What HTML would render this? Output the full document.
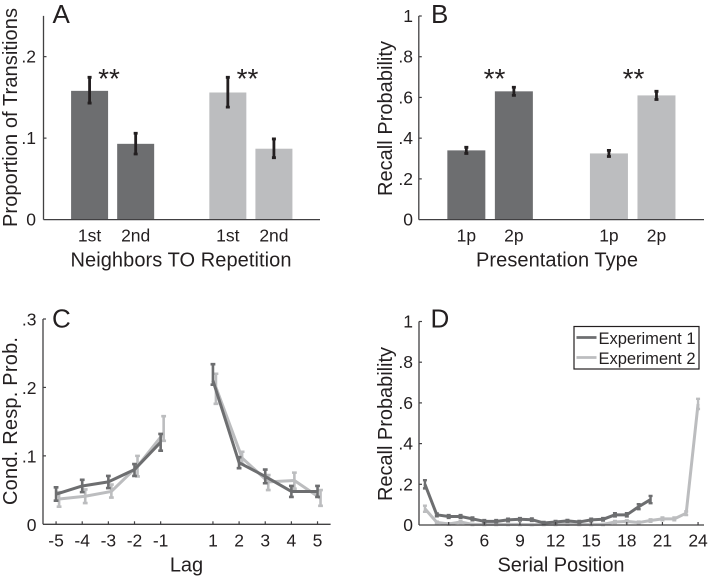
<!DOCTYPE html>
<html>
<head>
<meta charset="utf-8">
<title>Recall charts</title>
<style>
html,body{margin:0;padding:0;background:#fff;width:708px;height:577px;overflow:hidden}
svg{display:block;filter:blur(0.35px)}
text{font-family:"Liberation Sans",Arial,sans-serif;fill:#231f20}
.tick{font-size:17.5px}
.title{font-size:20px;text-anchor:middle}
.letter{font-size:26px}
.star{font-size:28px;text-anchor:middle}
.leg{font-size:16.5px}
</style>
</head>
<body>
<svg id="fig" width="708" height="577" viewBox="0 0 708 577" xmlns="http://www.w3.org/2000/svg">
  <text class="letter" x="52.5" y="23">A</text>
  <text class="letter" x="431" y="23">B</text>
  <text class="letter" x="52" y="327.5">C</text>
  <text class="letter" x="430.5" y="327.5">D</text>

  <text class="title" x="181" y="266.5" textLength="221">Neighbors TO Repetition</text>
  <text class="title" x="557" y="266.5" textLength="162">Presentation Type</text>
  <text class="title" x="186.5" y="571.5">Lag</text>
  <text class="title" x="561" y="571.5" textLength="127">Serial Position</text>

  <text class="title" transform="translate(17,117.5) rotate(-90)" textLength="219">Proportion of Transitions</text>
  <text class="title" transform="translate(392,118.5) rotate(-90)" textLength="155">Recall Probability</text>
  <text class="title" transform="translate(17,421) rotate(-90)" textLength="168">Cond. Resp. Prob.</text>
  <text class="title" transform="translate(392,424) rotate(-90)" textLength="154">Recall Probability</text>

  <text class="star" x="109" y="88">**</text>
  <text class="star" x="247.5" y="88">**</text>
  <text class="star" x="494.5" y="88">**</text>
  <text class="star" x="633.5" y="88">**</text>

  <g>
    <rect x="574" y="326.5" width="125" height="42.5" fill="#fff" stroke="#231f20" stroke-width="1.2"/>
    <line x1="576.5" x2="596.5" y1="337.5" y2="337.5" stroke="#6d6e70" stroke-width="2.8"/>
    <text class="leg" x="598.5" y="344" textLength="97">Experiment 1</text>
    <line x1="576.5" x2="596.5" y1="357.5" y2="357.5" stroke="#bcbdbf" stroke-width="2.8"/>
    <text class="leg" x="598.5" y="364" textLength="97">Experiment 2</text>
  </g>
</svg>
<script>
// Panel A
const aLabels = ['1st', '2nd', '1st', '2nd'];
const aSlots = [1, 2, 4, 5];
const aValues = [0.158, 0.093, 0.156, 0.087];
const aErrLow = [0.143, 0.0805, 0.138, 0.076];
const aErrHigh = [0.1746, 0.106, 0.1746, 0.099];
const aYTicks = [0, 0.1, 0.2];
const aYTickLabels = ['0', '.1', '.2'];
// Panel B
const bLabels = ['1p', '2p', '1p', '2p'];
const bSlots = [1, 2, 4, 5];
const bValues = [0.34, 0.63, 0.325, 0.61];
const bErrLow = [0.325, 0.61, 0.31, 0.59];
const bErrHigh = [0.355, 0.65, 0.34, 0.63];
const bYTicks = [0, 0.2, 0.4, 0.6, 0.8, 1];
const bYTickLabels = ['0', '.2', '.4', '.6', '.8', '1'];
// Panel C
const cLags = [-5, -4, -3, -2, -1, 1, 2, 3, 4, 5];
const cDark = [0.044, 0.056, 0.062, 0.08, 0.12, 0.21, 0.09, 0.07, 0.048, 0.048];
const cDarkLow = [0.0345, 0.047, 0.053, 0.0706, 0.1076, 0.204, 0.082, 0.06, 0.04, 0.04];
const cDarkHigh = [0.054, 0.065, 0.0706, 0.088, 0.132, 0.234, 0.098, 0.08, 0.056, 0.056];
const cLight = [0.037, 0.041, 0.048, 0.085, 0.133, 0.2, 0.097, 0.062, 0.064, 0.038];
const cLightLow = [0.0258, 0.031, 0.039, 0.07, 0.122, 0.176, 0.088, 0.05, 0.052, 0.027];
const cLightHigh = [0.047, 0.051, 0.058, 0.1, 0.158, 0.22, 0.106, 0.072, 0.0755, 0.05];
const cYTicks = [0, 0.1, 0.2, 0.3];
const cYTickLabels = ['0', '.1', '.2', '.3'];
// Panel D
const dPositions = [1,2,3,4,5,6,7,8,9,10,11,12,13,14,15,16,17,18,19,20,21,22,23,24];
const dDark = [0.2,0.05,0.042,0.042,0.03,0.018,0.018,0.025,0.028,0.026,0.01,0.015,0.02,0.015,0.025,0.028,0.05,0.05,0.09,0.125];
const dDarkErr = [0.02,0.007,0.007,0.007,0.007,0.006,0.006,0.006,0.006,0.006,0.005,0.005,0.005,0.005,0.006,0.006,0.008,0.008,0.012,0.018];
const dLight = [0.08,0.013,0.005,0.015,0.003,0.003,0.003,0.003,0.003,0.002,0.003,0.003,0.004,0.003,0.003,0.003,0.015,0.018,0.012,0.022,0.03,0.03,0.058,0.595];
const dLightErr = [0.015,0.004,0.003,0.005,0.003,0.003,0.003,0.003,0.003,0.002,0.003,0.003,0.003,0.003,0.003,0.003,0.005,0.005,0.005,0.006,0.007,0.007,0.009,0.025];
const dXTicks = [3, 6, 9, 12, 15, 18, 21, 24];
const dYTicks = [0, 0.2, 0.4, 0.6, 0.8, 1];
const dYTickLabels = ['0', '.2', '.4', '.6', '.8', '1'];

const DARK = '#6d6e70';
const LIGHT = '#bcbdbf';
const INK = '#231f20';
const AXIS = '#414042';
const NS = 'http://www.w3.org/2000/svg';
const fig = document.getElementById('fig');

function make(tag, attrs, parent) {
  const el = document.createElementNS(NS, tag);
  for (const k in attrs) el.setAttribute(k, attrs[k]);
  (parent || fig).appendChild(el);
  return el;
}
function scale(d0, d1, r0, r1) {
  return function (v) { return r0 + (v - d0) * (r1 - r0) / (d1 - d0); };
}
function drawAxes(name, x0, x1, y0, y1, yScale, yTicks, yLabels, labelRight, labelDy) {
  const yAxis = make('line', {x1: x0, x2: x0, y1: y0, y2: y1, stroke: AXIS, 'stroke-width': 1.3});
  
  
  const xAxis = make('line', {x1: x0, x2: x1, y1: y0, y2: y0, stroke: AXIS, 'stroke-width': 1.3});
  
  
  yTicks.forEach(function (t, i) {
    const y = yScale(t);
    if (t !== 0) {
      const tick = make('line', {x1: x0, x2: x0 + 3, y1: y, y2: y, stroke: AXIS, 'stroke-width': 1.2});
      
      
    }
    const label = make('text', {class: 'tick', x: labelRight, y: y + labelDy, 'text-anchor': 'end'});
    label.textContent = yLabels[i];
    
    
  });
}
function drawBars(name, slots, values, low, high, labels, xScale, yScale, width) {
  const base = yScale(0);
  slots.forEach(function (s, i) {
    const cx = xScale(s);
    const top = yScale(values[i]);
    const bar = make('rect', {x: cx - width / 2, y: top, width: width, height: base - top, fill: i < 2 ? DARK : LIGHT});
    
    
    const yl = yScale(low[i]);
    const yh = yScale(high[i]);
    const err = make('path', {d: 'M' + cx + ' ' + yl + 'V' + yh + 'M' + (cx - 2) + ' ' + yl + 'H' + (cx + 2) + 'M' + (cx - 2) + ' ' + yh + 'H' + (cx + 2), stroke: INK, 'stroke-width': 2.8, fill: 'none'});
    
    
    const label = make('text', {class: 'tick', x: cx, y: 241.5, 'text-anchor': 'middle'});
    label.textContent = labels[i];
    
    
  });
}
function drawSeries(name, color, xs, values, low, high, xScale, yScale, offset, capW, errW) {
  const px = xs.map(function (v) { return xScale(v) + offset; });
  let segments = '';
  values.forEach(function (v, i) {
    const gap = i > 0 && xs[i] - xs[i - 1] > 1 && xs[i - 1] === -1;
    segments += (i === 0 || gap ? 'M' : 'L') + px[i] + ' ' + yScale(v);
  });
  values.forEach(function (v, i) {
    const yl = yScale(low[i]);
    const yh = yScale(high[i]);
    const err = make('path', {d: 'M' + px[i] + ' ' + yl + 'V' + yh + 'M' + (px[i] - capW) + ' ' + yl + 'H' + (px[i] + capW) + 'M' + (px[i] - capW) + ' ' + yh + 'H' + (px[i] + capW), stroke: color, 'stroke-width': errW, fill: 'none'});
    
    
  });
  const line = make('path', {d: segments, stroke: color, 'stroke-width': 3, fill: 'none', 'stroke-linejoin': 'round'});
  
  
}
function drawXTicks(name, ticks, xScale, y0, labelY) {
  ticks.forEach(function (t) {
    const x = xScale(t);
    const tick = make('line', {x1: x, x2: x, y1: y0, y2: y0 - 3, stroke: AXIS, 'stroke-width': 1.2});
    
    
    const label = make('text', {class: 'tick', x: x, y: labelY, 'text-anchor': 'middle'});
    label.textContent = String(t);
    
    
  });
}

// Panel A
const axA = scale(0, 6, 43.5, 320);
const ayA = scale(0, 0.25, 219.6, 15.9);
drawBars('panel-a', aSlots, aValues, aErrLow, aErrHigh, aLabels, axA, ayA, 37);
drawAxes('panel-a', 43.5, 320, 219.6, 15.9, ayA, aYTicks, aYTickLabels, 36, 6);

// Panel B
const axB = scale(0, 6, 418.8, 704);
const ayB = scale(0, 1, 219.6, 16);
drawBars('panel-b', bSlots, bValues, bErrLow, bErrHigh, bLabels, axB, ayB, 38);
drawAxes('panel-b', 418.8, 704, 219.6, 16, ayB, bYTicks, bYTickLabels, 413, 6);

// Panel C
const axC = scale(-5.5, 5.5, 43, 330.6);
const ayC = scale(0, 0.3, 524.3, 319);
drawSeries('panel-c-experiment-2', LIGHT, cLags, cLight, cLightLow, cLightHigh, axC, ayC, 3, 2.4, 2.6);
drawSeries('panel-c-experiment-1', DARK, cLags, cDark, cDarkLow, cDarkHigh, axC, ayC, 0, 2.4, 2.6);
drawAxes('panel-c', 43, 330.6, 524.3, 319, ayC, cYTicks, cYTickLabels, 36.5, 6.5);
drawXTicks('panel-c', cLags, axC, 524.3, 546.5);

// Panel D
const axD = scale(0.5, 24.5, 419, 704);
const ayD = scale(0, 1, 525, 321.5);
function low(vals, errs) { return vals.map(function (v, i) { return Math.max(0, v - errs[i]); }); }
function high(vals, errs) { return vals.map(function (v, i) { return v + errs[i]; }); }
drawSeries('panel-d-experiment-2', LIGHT, dPositions.slice(0, dLight.length), dLight, low(dLight, dLightErr), high(dLight, dLightErr), axD, ayD, 0, 2, 2.4);
drawSeries('panel-d-experiment-1', DARK, dPositions.slice(0, dDark.length), dDark, low(dDark, dDarkErr), high(dDark, dDarkErr), axD, ayD, 0, 2, 2.4);
drawAxes('panel-d', 419, 704, 525, 321.5, ayD, dYTicks, dYTickLabels, 413, 6);
drawXTicks('panel-d', dXTicks, axD, 525, 546.5);
</script>
</body>
</html>
